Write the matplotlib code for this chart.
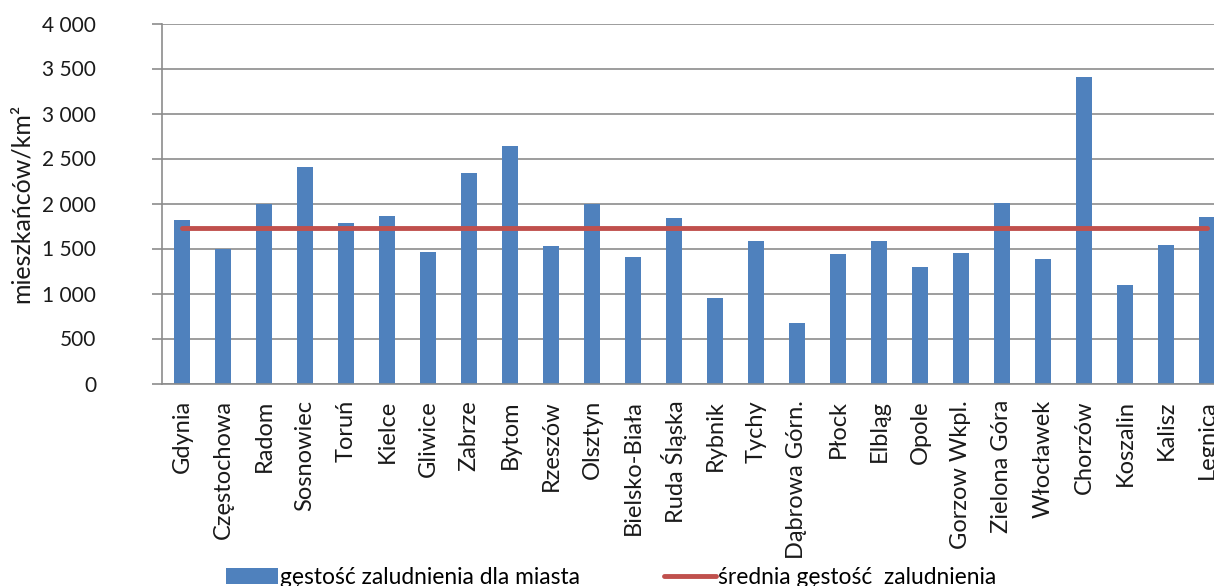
import numpy as np
import matplotlib
matplotlib.use("Agg")
import matplotlib.pyplot as plt
from matplotlib.ticker import FuncFormatter, MultipleLocator

plt.rcParams['font.family'] = ['Lato', 'DejaVu Sans']

# population density per city (inhabitants per km2)
miasta = ['Gdynia', 'Częstochowa', 'Radom', 'Sosnowiec', 'Toruń', 'Kielce',
          'Gliwice', 'Zabrze', 'Bytom', 'Rzeszów', 'Olsztyn', 'Bielsko-Biała',
          'Ruda Śląska', 'Rybnik', 'Tychy', 'Dąbrowa Górn.', 'Płock', 'Elbląg',
          'Opole', 'Gorzow Wkpl.', 'Zielona Góra', 'Włocławek', 'Chorzów',
          'Koszalin', 'Kalisz', 'Legnica']
gestosc = [1820, 1500, 2000, 2410, 1780, 1865,
           1465, 2335, 2635, 1525, 2000, 1410,
           1835, 955, 1580, 670, 1440, 1580,
           1300, 1450, 2010, 1380, 3405,
           1100, 1540, 1850]
srednia = [1725] * len(miasta)

W, H = 1214, 586
fig = plt.figure(figsize=(W / 100, H / 100), dpi=100)
# the plot area runs past the right edge of the figure
ax = fig.add_axes([161.5 / W, (H - 383.5) / H, 1066 / W, 360 / H])

x = np.arange(len(miasta))
bars = ax.bar(x, gestosc, width=0.4, color='#4F81BD', zorder=2,
              label='gęstość zaludnienia dla miasta')
line, = ax.plot(x, srednia, color='#C0504D', lw=3.5, solid_capstyle='round',
                zorder=3, label='średnia gęstość  zaludnienia')

ax.set_xlim(-0.5, len(miasta) - 0.5)
ax.set_ylim(0, 4000)
ax.yaxis.set_major_locator(MultipleLocator(500))
ax.yaxis.set_major_formatter(FuncFormatter(lambda v, p: f'{int(v):,}'.replace(',', ' ')))
ax.grid(axis='y', color='#8C8C8C', lw=1.2, zorder=0)

for s in ['top', 'right']:
    ax.spines[s].set_visible(False)
ax.spines['left'].set_color('#8C8C8C')
ax.spines['bottom'].set_color('#8C8C8C')
ax.spines['left'].set_linewidth(1.2)
ax.spines['bottom'].set_linewidth(1.2)

ax.set_xticks(x)
ax.set_xticklabels(miasta, rotation=90, fontsize=17, color='#1a1a1a')
ax.tick_params(axis='x', length=0, pad=12)
ax.tick_params(axis='y', length=7, width=1.2, color='#8C8C8C', direction='out',
               labelsize=15, labelcolor='#1a1a1a', pad=40)

ax.set_ylabel('mieszkańców/km²', fontsize=18, color='#1a1a1a')
ax.yaxis.set_label_coords((33 - 161.5) / 1066, 0.5)

fig.legend(handles=[bars, line], loc='center', bbox_to_anchor=(611 / W, 1 - 577 / H),
           ncol=2, frameon=False, fontsize=16.4, handlelength=2.3,
           handleheight=0.7, handletextpad=0.08, columnspacing=3.7,
           borderpad=0, borderaxespad=0)

fig.savefig('out.png', dpi=100)
